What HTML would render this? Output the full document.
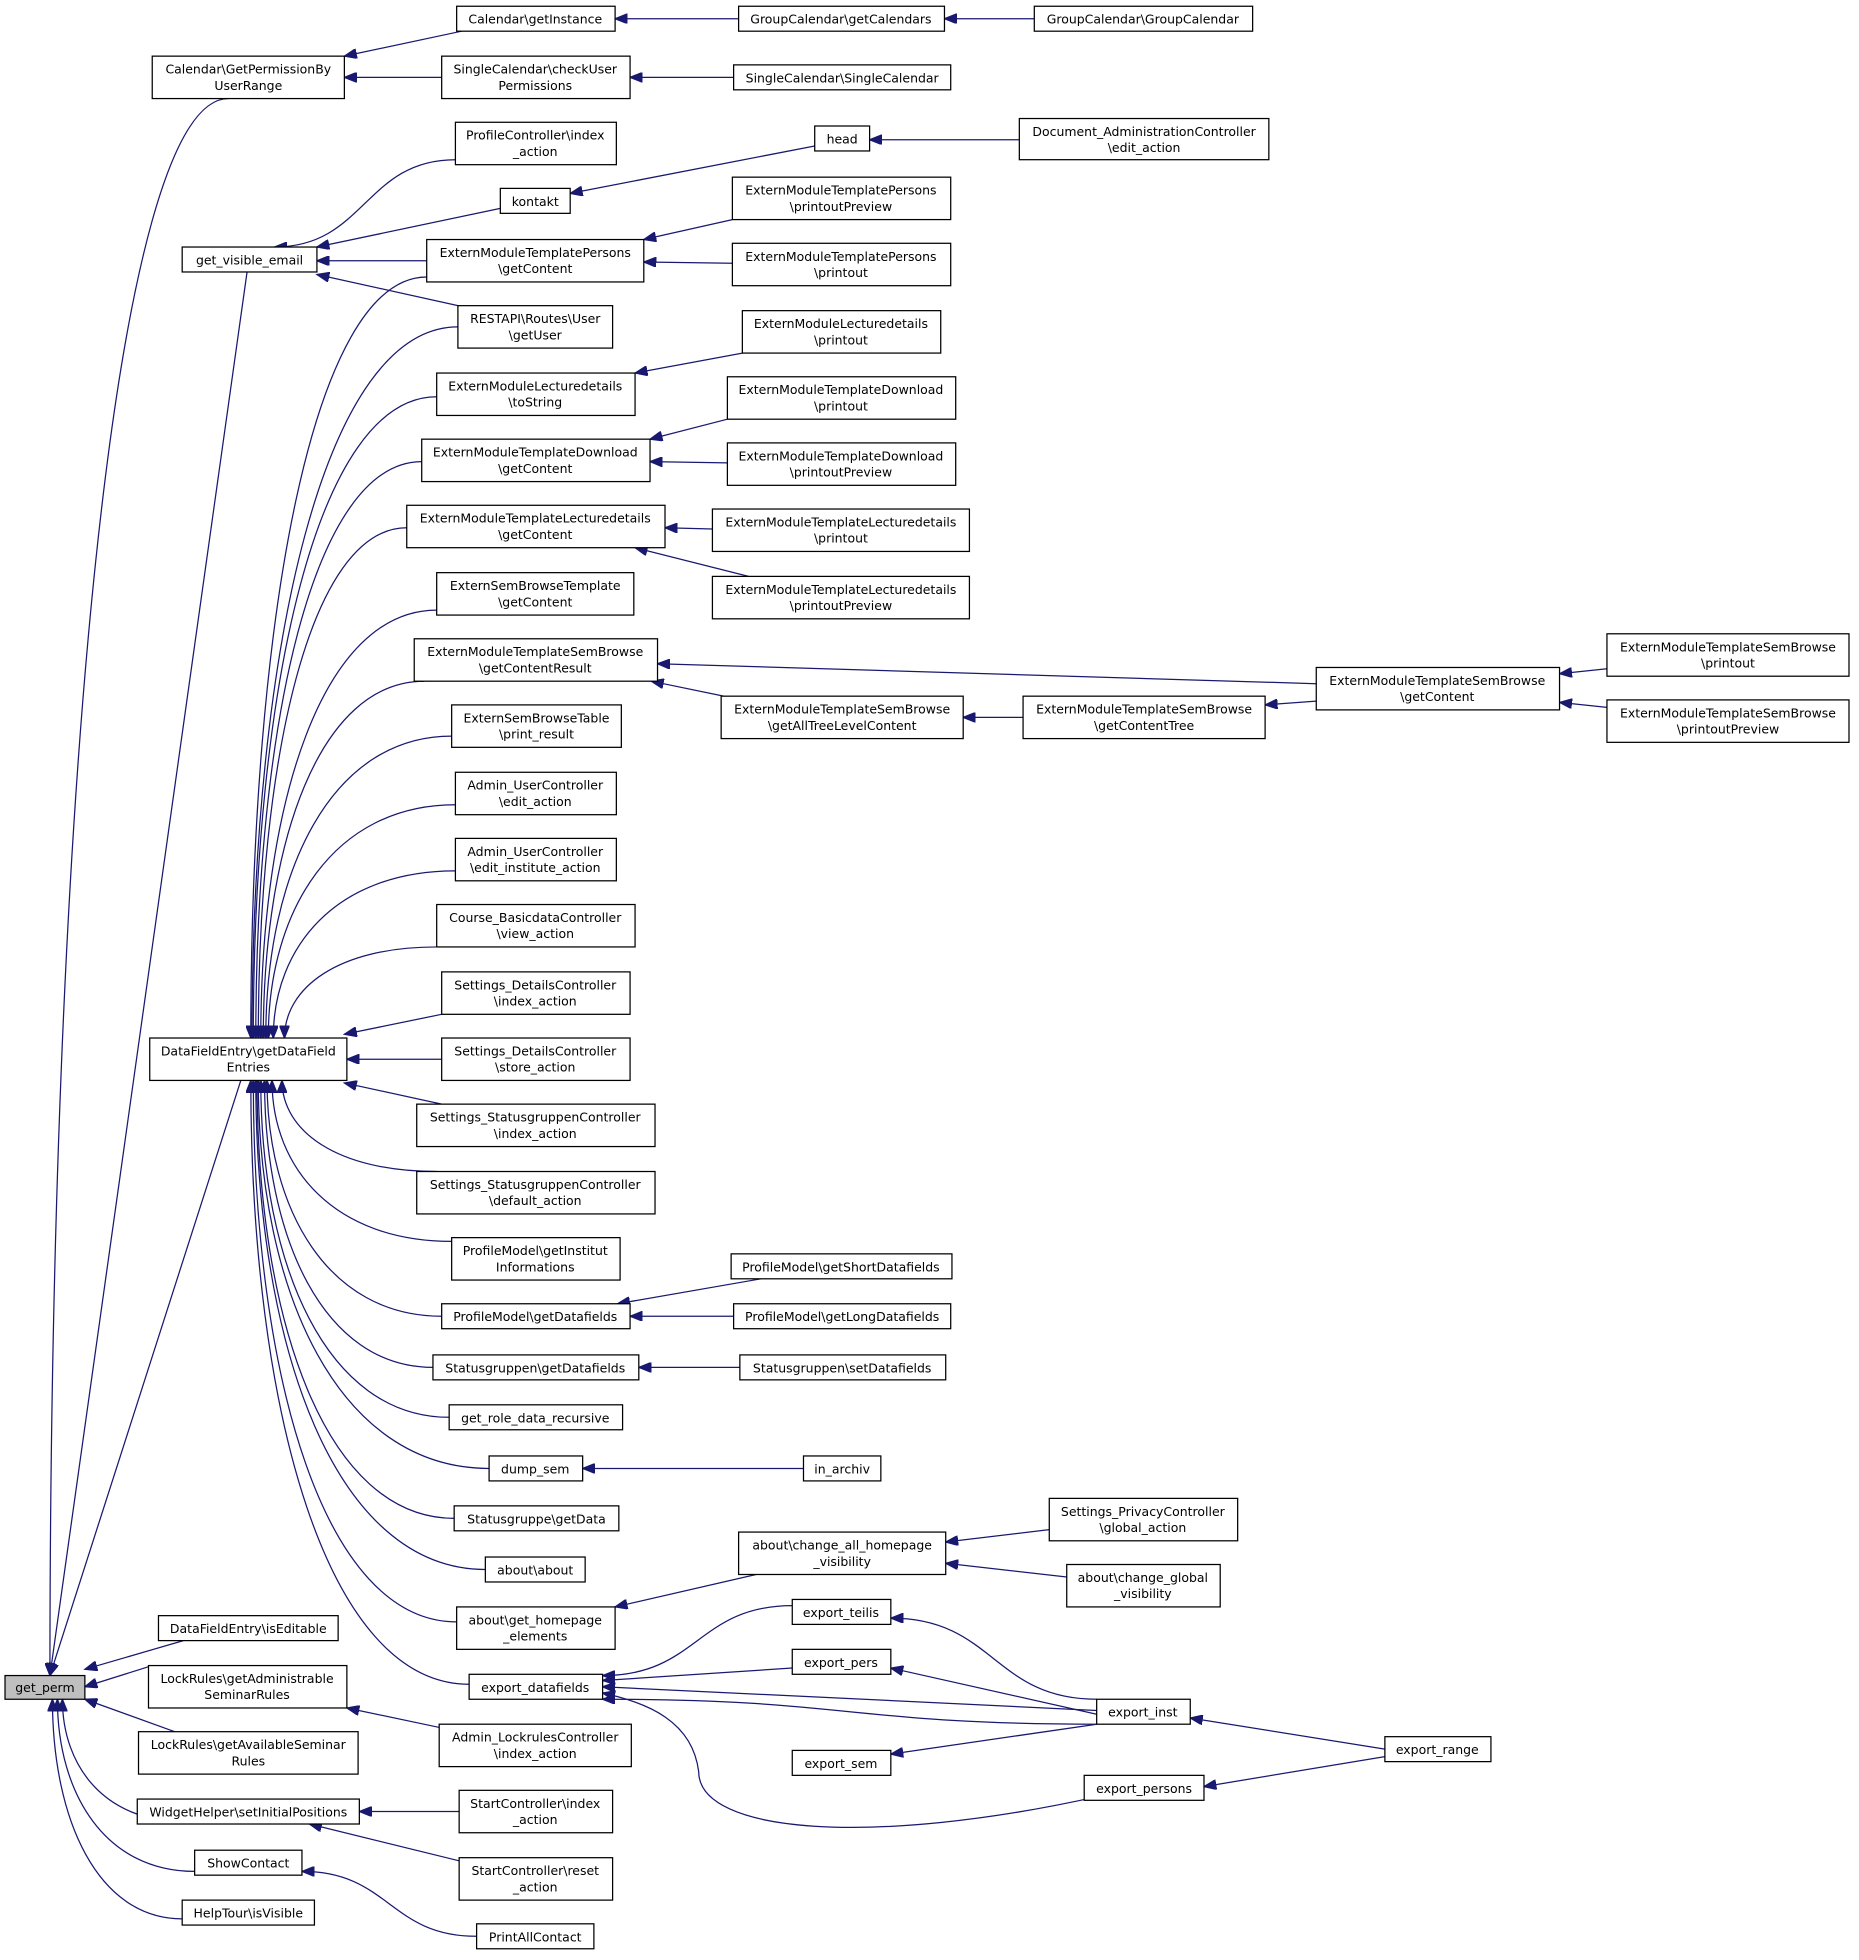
<!DOCTYPE html>
<html><head><meta charset="utf-8"><style>
html,body{margin:0;padding:0;background:#fff;}
svg{display:block;}
text{font-family:"DejaVu Sans","Liberation Sans",sans-serif;font-size:10px;fill:#000;text-anchor:middle;}
rect{fill:#fff;stroke:#000;stroke-width:1;}
path.e{fill:none;stroke:#191970;stroke-width:1;}
</style></head><body>
<svg id="g" width="1859" height="1960" viewBox="0 0 1490 1571" xmlns="http://www.w3.org/2000/svg">
<defs><marker id="a" markerWidth="11" markerHeight="8" refX="10" refY="4" orient="auto" markerUnits="userSpaceOnUse"><path d="M0,0 L10,4 L0,8 z" fill="#191970" stroke="#191970"/></marker></defs>
<g id="edges"></g>
<g id="nodes">
<rect x="4" y="1343" width="64" height="19" style="fill:#bfbfbf"/><text x="36" y="1356">get_perm</text>
<rect x="122" y="45" width="154" height="34"/><text x="199" y="59">Calendar\GetPermissionBy</text><text x="199" y="72">UserRange</text>
<rect x="366" y="5" width="127" height="20"/><text x="429" y="19">Calendar\getInstance</text>
<rect x="354" y="45" width="151" height="34"/><text x="429" y="59">SingleCalendar\checkUser</text><text x="429" y="72">Permissions</text>
<rect x="592" y="5" width="165" height="20"/><text x="674" y="19">GroupCalendar\getCalendars</text>
<rect x="829" y="5" width="175" height="20"/><text x="916" y="19">GroupCalendar\GroupCalendar</text>
<rect x="588" y="52" width="174" height="20"/><text x="675" y="66">SingleCalendar\SingleCalendar</text>
<rect x="365" y="98" width="129" height="34"/><text x="429" y="112">ProfileController\index</text><text x="429" y="125">_action</text>
<rect x="653" y="101" width="44" height="20"/><text x="675" y="115">head</text>
<rect x="817" y="95" width="200" height="33"/><text x="917" y="109">Document_AdministrationController</text><text x="917" y="122">\edit_action</text>
<rect x="401" y="151" width="56" height="20"/><text x="429" y="165">kontakt</text>
<rect x="146" y="198" width="108" height="20"/><text x="200" y="212">get_visible_email</text>
<rect x="342" y="192" width="174" height="34"/><text x="429" y="206">ExternModuleTemplatePersons</text><text x="429" y="219">\getContent</text>
<rect x="587" y="142" width="175" height="34"/><text x="674" y="156">ExternModuleTemplatePersons</text><text x="674" y="169">\printoutPreview</text>
<rect x="587" y="195" width="175" height="34"/><text x="674" y="209">ExternModuleTemplatePersons</text><text x="674" y="222">\printout</text>
<rect x="367" y="245" width="124" height="34"/><text x="429" y="259">RESTAPI\Routes\User</text><text x="429" y="272">\getUser</text>
<rect x="595" y="249" width="159" height="34"/><text x="674" y="263">ExternModuleLecturedetails</text><text x="674" y="276">\printout</text>
<rect x="350" y="299" width="159" height="34"/><text x="429" y="313">ExternModuleLecturedetails</text><text x="429" y="326">\toString</text>
<rect x="583" y="302" width="183" height="34"/><text x="674" y="316">ExternModuleTemplateDownload</text><text x="674" y="329">\printout</text>
<rect x="338" y="352" width="183" height="34"/><text x="429" y="366">ExternModuleTemplateDownload</text><text x="429" y="379">\getContent</text>
<rect x="583" y="355" width="183" height="34"/><text x="674" y="369">ExternModuleTemplateDownload</text><text x="674" y="382">\printoutPreview</text>
<rect x="326" y="405" width="207" height="34"/><text x="429" y="419">ExternModuleTemplateLecturedetails</text><text x="429" y="432">\getContent</text>
<rect x="571" y="408" width="206" height="34"/><text x="674" y="422">ExternModuleTemplateLecturedetails</text><text x="674" y="435">\printout</text>
<rect x="350" y="459" width="158" height="34"/><text x="429" y="473">ExternSemBrowseTemplate</text><text x="429" y="486">\getContent</text>
<rect x="571" y="462" width="206" height="34"/><text x="674" y="476">ExternModuleTemplateLecturedetails</text><text x="674" y="489">\printoutPreview</text>
<rect x="332" y="512" width="195" height="34"/><text x="429" y="526">ExternModuleTemplateSemBrowse</text><text x="429" y="539">\getContentResult</text>
<rect x="1055" y="535" width="195" height="34"/><text x="1152" y="549">ExternModuleTemplateSemBrowse</text><text x="1152" y="562">\getContent</text>
<rect x="1288" y="508" width="194" height="34"/><text x="1385" y="522">ExternModuleTemplateSemBrowse</text><text x="1385" y="535">\printout</text>
<rect x="1288" y="561" width="194" height="34"/><text x="1385" y="575">ExternModuleTemplateSemBrowse</text><text x="1385" y="588">\printoutPreview</text>
<rect x="578" y="558" width="194" height="34"/><text x="675" y="572">ExternModuleTemplateSemBrowse</text><text x="675" y="585">\getAllTreeLevelContent</text>
<rect x="820" y="558" width="194" height="34"/><text x="917" y="572">ExternModuleTemplateSemBrowse</text><text x="917" y="585">\getContentTree</text>
<rect x="362" y="565" width="136" height="34"/><text x="430" y="579">ExternSemBrowseTable</text><text x="430" y="592">\print_result</text>
<rect x="365" y="619" width="129" height="34"/><text x="429" y="633">Admin_UserController</text><text x="429" y="646">\edit_action</text>
<rect x="365" y="672" width="129" height="34"/><text x="429" y="686">Admin_UserController</text><text x="429" y="699">\edit_institute_action</text>
<rect x="350" y="725" width="159" height="34"/><text x="429" y="739">Course_BasicdataController</text><text x="429" y="752">\view_action</text>
<rect x="354" y="779" width="151" height="34"/><text x="429" y="793">Settings_DetailsController</text><text x="429" y="806">\index_action</text>
<rect x="354" y="832" width="151" height="34"/><text x="429" y="846">Settings_DetailsController</text><text x="429" y="859">\store_action</text>
<rect x="120" y="832" width="158" height="34"/><text x="199" y="846">DataFieldEntry\getDataField</text><text x="199" y="859">Entries</text>
<rect x="334" y="885" width="191" height="34"/><text x="429" y="899">Settings_StatusgruppenController</text><text x="429" y="912">\index_action</text>
<rect x="334" y="939" width="191" height="34"/><text x="429" y="953">Settings_StatusgruppenController</text><text x="429" y="966">\default_action</text>
<rect x="362" y="992" width="135" height="34"/><text x="429" y="1006">ProfileModel\getInstitut</text><text x="429" y="1019">Informations</text>
<rect x="586" y="1005" width="177" height="20"/><text x="674" y="1019">ProfileModel\getShortDatafields</text>
<rect x="354" y="1045" width="151" height="20"/><text x="429" y="1059">ProfileModel\getDatafields</text>
<rect x="588" y="1045" width="174" height="20"/><text x="675" y="1059">ProfileModel\getLongDatafields</text>
<rect x="347" y="1086" width="165" height="20"/><text x="429" y="1100">Statusgruppen\getDatafields</text>
<rect x="593" y="1086" width="165" height="20"/><text x="675" y="1100">Statusgruppen\setDatafields</text>
<rect x="360" y="1126" width="139" height="20"/><text x="429" y="1140">get_role_data_recursive</text>
<rect x="392" y="1167" width="75" height="20"/><text x="429" y="1181">dump_sem</text>
<rect x="644" y="1167" width="62" height="20"/><text x="675" y="1181">in_archiv</text>
<rect x="364" y="1207" width="132" height="20"/><text x="430" y="1221">Statusgruppe\getData</text>
<rect x="592" y="1228" width="166" height="34"/><text x="675" y="1242">about\change_all_homepage</text><text x="675" y="1255">_visibility</text>
<rect x="841" y="1201" width="151" height="34"/><text x="916" y="1215">Settings_PrivacyController</text><text x="916" y="1228">\global_action</text>
<rect x="389" y="1248" width="80" height="20"/><text x="429" y="1262">about\about</text>
<rect x="855" y="1254" width="123" height="34"/><text x="916" y="1268">about\change_global</text><text x="916" y="1281">_visibility</text>
<rect x="366" y="1288" width="127" height="34"/><text x="429" y="1302">about\get_homepage</text><text x="429" y="1315">_elements</text>
<rect x="635" y="1282" width="79" height="20"/><text x="674" y="1296">export_teilis</text>
<rect x="127" y="1295" width="144" height="20"/><text x="199" y="1309">DataFieldEntry\isEditable</text>
<rect x="635" y="1322" width="79" height="20"/><text x="674" y="1336">export_pers</text>
<rect x="119" y="1335" width="159" height="34"/><text x="198" y="1349">LockRules\getAdministrable</text><text x="198" y="1362">SeminarRules</text>
<rect x="376" y="1342" width="107" height="20"/><text x="429" y="1356">export_datafields</text>
<rect x="879" y="1362" width="75" height="20"/><text x="916" y="1376">export_inst</text>
<rect x="352" y="1382" width="154" height="34"/><text x="429" y="1396">Admin_LockrulesController</text><text x="429" y="1409">\index_action</text>
<rect x="111" y="1388" width="176" height="34"/><text x="199" y="1402">LockRules\getAvailableSeminar</text><text x="199" y="1415">Rules</text>
<rect x="1110" y="1392" width="85" height="20"/><text x="1152" y="1406">export_range</text>
<rect x="635" y="1403" width="79" height="20"/><text x="674" y="1417">export_sem</text>
<rect x="869" y="1423" width="96" height="20"/><text x="917" y="1437">export_persons</text>
<rect x="110" y="1442" width="178" height="20"/><text x="199" y="1456">WidgetHelper\setInitialPositions</text>
<rect x="368" y="1435" width="123" height="34"/><text x="429" y="1449">StartController\index</text><text x="429" y="1462">_action</text>
<rect x="156" y="1483" width="86" height="20"/><text x="199" y="1497">ShowContact</text>
<rect x="368" y="1489" width="123" height="34"/><text x="429" y="1503">StartController\reset</text><text x="429" y="1516">_action</text>
<rect x="146" y="1523" width="106" height="20"/><text x="199" y="1537">HelpTour\isVisible</text>
<rect x="382" y="1542" width="94" height="20"/><text x="429" y="1556">PrintAllContact</text>
</g>
</svg>
<script>
var E=[
// straight: sx,sy,tx,ty
[370,25,276,45],[354,62,276,62],[592,15,493,15],[829,15,757,15],[588,62,505,62],
[653,117,457,155],[817,112,697,112],[401,167,254,198],[342,209,254,209],[367,245,254,220],
[587,176,516,192],[587,211,516,210],[595,283,509,299],[583,336,521,352],[583,371,521,370],
[571,424,533,423],[600,462,509,439],[1055,548,527,532],[580,558,522,546],[820,575,772,575],
[1055,562,1014,565],[1288,536,1250,540],[1288,567,1250,563],[354,813,276,829],[354,849,278,849],
[354,885,276,868],[610,1025,495,1045],[588,1055,505,1055],[593,1096,512,1096],[644,1177,467,1177],
[606,1262,493,1288],[841,1226,758,1236],[855,1264,758,1253],[635,1337,483,1347],[879,1371,483,1352],
[879,1382,714,1406],[879,1374,714,1337],[1110,1402,954,1377],[1110,1408,965,1432],
[354,1385,278,1369],[368,1452,288,1452],[370,1492,248,1462],[122,1335,68,1352],[68,1352+0,68,1352],
[147,1315,68,1338],[140,1388,68,1362],[193,866,40,1343],[198,218,40,1343]
];
// curves: sx,sy,tx,ty (vertical-ish at target)
var C=[
[183,79,40,1343,'v'],[365,128,220,198,'h'],
[342,222,201,832],[367,262,202,832],[350,318,203,832],[338,370,205,832],[326,423,207,832],
[350,489,209,832],[340,546,211,832],[362,590,213,832],[365,645,215,832],[365,698,219,832],
[350,759,228,832],
[350,939,226,866],[362,995,218,866],[354,1055,214,866],[347,1096,212,866],[360,1136,209,866],
[392,1177,207,866],[364,1217,206,866],[389,1258,205,866],[366,1300,203,866],[376,1350,201,866],
[635,1287,483,1343,'h'],[879,1382,483,1362,'h'],[880,1440,483,1357,'x'],
[879,1362,714,1297,'h2'],
[147,1460,50,1362],[156,1500,46,1362],[146,1538,42,1362],[382,1552,242,1500,'h2']
];
var g=document.getElementById('edges'),s='';
E.forEach(function(e){if(e[0]==e[2]&&e[1]==e[3])return;s+='<path class="e" marker-end="url(#a)" d="M'+e[0]+','+e[1]+' L'+e[2]+','+e[3]+'"/>';});
C.forEach(function(e){var sx=e[0],sy=e[1],tx=e[2],ty=e[3],d;
 if(e[4]=='h'||e[4]=='h2'){d='M'+sx+','+sy+' C'+((sx+tx)/2)+','+sy+' '+((sx+tx)/2)+','+ty+' '+tx+','+ty;}
 else if(e[4]=='x'){d='M'+sx+','+sy+' C700,1480 560,1470 560,1420 C555,1380 520,1365 '+tx+','+ty;}
 else {d='M'+sx+','+sy+' C'+(tx+(sx-tx)*0.35)+','+sy+' '+tx+','+(ty+(sy-ty)*0.55)+' '+tx+','+ty;}
 s+='<path class="e" marker-end="url(#a)" d="'+d+'"/>';});
g.innerHTML=s;
</script>
</body></html>
